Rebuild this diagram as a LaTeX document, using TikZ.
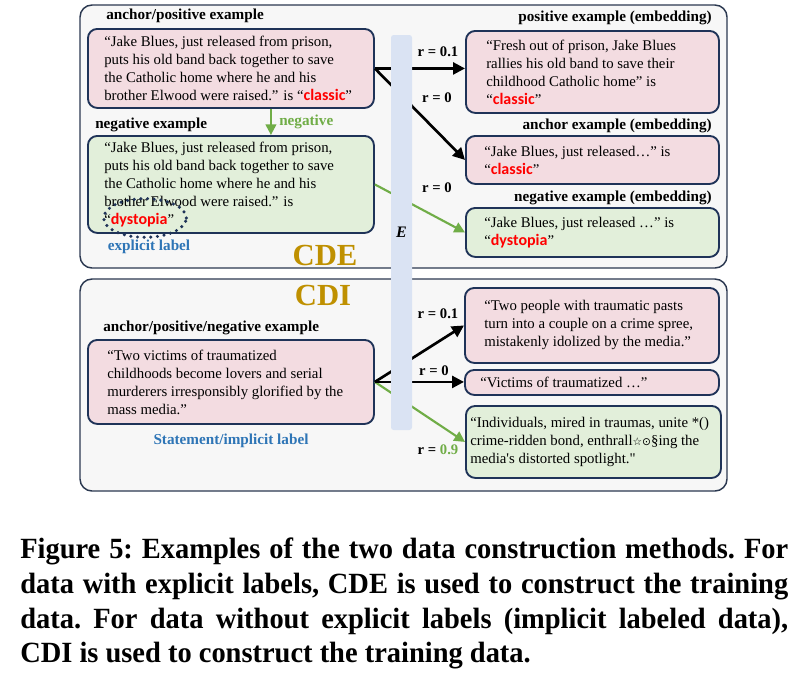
\documentclass[tikz,border=0pt]{standalone}
\usepackage{fontspec}
\setmainfont{Liberation Serif}
\newfontfamily\labelfont{Carlito}
\newfontfamily\symfont{DejaVu Sans}
\newfontfamily\capfont[FakeStretch=0.97]{Liberation Serif}
\usetikzlibrary{arrows.meta,positioning,shapes.geometric}

\definecolor{panelfill}{HTML}{F7F7F7}
\definecolor{panelline}{HTML}{2B3850}
\definecolor{boxline}{HTML}{1F3358}
\definecolor{pinkfill}{HTML}{F3DCE1}
\definecolor{greenfill}{HTML}{E2EFDA}
\definecolor{barfill}{HTML}{DAE3F3}
\definecolor{arrowgreen}{HTML}{70AD47}
\definecolor{labelblue}{HTML}{2E75B6}
\definecolor{labelred}{HTML}{FF0000}
\definecolor{methodgold}{HTML}{BF9000}

\newcommand\boxfont{\fontsize{11.1}{13.5}\selectfont}
\newcommand\titlefont{\fontsize{11.4}{13}\selectfont\bfseries}
\newcommand\redlabel[1]{{\labelfont\bfseries\fontsize{12}{13.5}\selectfont\color{labelred}#1}}

\begin{document}
\begin{tikzpicture}[
    x=0.75pt, y=-0.75pt,
    >=Triangle,
    panel/.style={
        draw=panelline,
        fill=panelfill,
        line width=1.1pt,
        rounded corners=9pt
    },
    textbox/.style={
        draw=boxline,
        line width=1.4pt,
        rounded corners=7pt,
        anchor=north west,
        inner sep=0pt
    },
    pinkbox/.style={textbox, fill=pinkfill},
    greenbox/.style={textbox, fill=greenfill},
    boxtext/.style={
        align=left,
        inner sep=0pt,
        font=\boxfont
    },
    boxtitle/.style={
        font=\titlefont,
        inner sep=0pt
    },
    rlabel/.style={
        font=\fontsize{11}{13}\selectfont\bfseries,
        inner sep=0pt
    },
    pairarrow/.style={
        ->,
        line width=2pt,
        >={Triangle[length=9pt,width=9pt]}
    },
    negarrow/.style={
        ->,
        draw=arrowgreen,
        line width=1.6pt,
        >={Triangle[length=8pt,width=8pt]}
    },
    method/.style={
        font=\fontsize{23}{23}\selectfont\bfseries,
        text=methodgold,
        inner sep=0pt
    },
    encoder/.style={
        fill=barfill,
        rounded corners=2pt,
        minimum width=15.75pt,
        minimum height=296.25pt,
        inner sep=0pt,
        font=\fontsize{12}{12}\selectfont\bfseries\itshape
    },
    caption/.style={
        anchor=north west,
        text width=576pt,
        align=justify,
        inner sep=0pt,
        font=\capfont\bfseries\fontsize{22}{26}\selectfont
    }
]
\useasboundingbox (0,0) rectangle (806,687);

% ============================================================
% Panels
% ============================================================
\draw[panel] (80,5)   rectangle (727,268);
\draw[panel] (80,279) rectangle (727,491);

% ============================================================
% CDE
% ============================================================

% ------------------------------------------------------------
% left: anchor/positive and negative example
% ------------------------------------------------------------
\node[boxtitle, anchor=west] (cde-anchor-title) at (106,16)
    {anchor/positive example};
\node[pinkbox, minimum width=214.5pt, minimum height=59.25pt]
    (cde-anchor) at (87,28) {};
\node[boxtext, right=12.75pt of cde-anchor.west] (cde-anchor-text)
    {“Jake Blues, just released from prison,\\
     puts his old band back together to save\\
     the Catholic home where he and his\\
     brother Elwood were raised.” is “\redlabel{classic}”};

\node[boxtitle, anchor=west] (cde-neg-title) at (95,125)
    {negative example};
\node[greenbox, minimum width=214.5pt, minimum height=72.75pt]
    (cde-neg) at (87,135) {};
\node[boxtext, right=12.75pt of cde-neg.west] (cde-neg-text)
    {“Jake Blues, just released from prison,\\
     puts his old band back together to save\\
     the Catholic home where he and his\\
     brother Elwood were raised.” is\\
     “\redlabel{dystopia}”};

\node[ellipse, draw=boxline, line width=2.6pt, line cap=round,
      dash pattern=on 0pt off 5pt,
      minimum width=62pt, minimum height=29pt] (cde-ring) at (145,218) {};
\node[boxtitle, text=labelblue] (cde-explicit) at (149,247)
    {explicit label};

\node[boxtitle, text=arrowgreen, anchor=west] (cde-neg-label) at (279,122)
    {negative};
\draw[negarrow] ([xshift=30pt]cde-anchor.south) -- ([xshift=30pt]cde-neg.north);

\node[method] (cde-name) at (325,255) {CDE};

% ------------------------------------------------------------
% right: embeddings
% ------------------------------------------------------------
\node[boxtitle, anchor=east] (cde-pos-emb-title) at (712,18)
    {positive example (embedding)};
\node[pinkbox, minimum width=189.75pt, minimum height=61.5pt]
    (cde-pos-emb) at (465,30) {};
\node[boxtext, right=15.75pt of cde-pos-emb.west] (cde-pos-emb-text)
    {“Fresh out of prison, Jake Blues\\
     rallies his old band to save their\\
     childhood Catholic home” is\\
     “\redlabel{classic}”};

\node[boxtitle, anchor=east] (cde-anc-emb-title) at (712,126)
    {anchor example (embedding)};
\node[pinkbox, minimum width=189.75pt, minimum height=36pt]
    (cde-anc-emb) at (465,135) {};
\node[boxtext, right=14.25pt of cde-anc-emb.west] (cde-anc-emb-text)
    {“Jake Blues, just released…” is\\
     “\redlabel{classic}”};

\node[boxtitle, anchor=east] (cde-neg-emb-title) at (712,198)
    {negative example (embedding)};
\node[greenbox, minimum width=189.75pt, minimum height=36.75pt]
    (cde-neg-emb) at (465,207) {};
\node[boxtext, right=14.25pt of cde-neg-emb.west] (cde-neg-emb-text)
    {“Jake Blues, just released …” is\\
     “\redlabel{dystopia}”};

% pairs
\node[rlabel] (cde-r-pos) at (438,52) {r = 0.1};
\node[rlabel] (cde-r-anc) at (437,98) {r = 0};
\node[rlabel] (cde-r-neg) at (437,188) {r = 0};

\draw[pairarrow] (cde-anchor.east) -- (cde-anchor.east -| cde-pos-emb.west);
\draw[pairarrow] (cde-anchor.east) -- (cde-anc-emb.west);
\draw[negarrow]  (cde-neg.east)    -- (cde-neg-emb.west);

% ============================================================
% CDI
% ============================================================
\node[method] (cdi-name) at (323,295) {CDI};

\node[boxtitle, anchor=west] (cdi-anchor-title) at (103,328)
    {anchor/positive/negative example};
\node[pinkbox, minimum width=214.5pt, minimum height=63pt]
    (cdi-anchor) at (87,339) {};
\node[boxtext, right=15pt of cdi-anchor.west] (cdi-anchor-text)
    {“Two victims of traumatized\\
     childhoods become lovers and serial\\
     murderers irresponsibly glorified by the\\
     mass media.”};
\node[boxtitle, text=labelblue] (cdi-implicit) at (231,441)
    {Statement/implicit label};

\node[pinkbox, minimum width=190.5pt, minimum height=56.25pt]
    (cdi-pos) at (464,287) {};
\node[boxtext, right=15pt of cdi-pos.west] (cdi-pos-text)
    {“Two people with traumatic pasts\\
     turn into a couple on a crime spree,\\
     mistakenly idolized by the media.”};

\node[pinkbox, minimum width=190.5pt, minimum height=18.75pt]
    (cdi-anc) at (464,369) {};
\node[boxtext, right=12pt of cdi-anc.west] (cdi-anc-text)
    {“Victims of traumatized …”};

\node[greenbox, minimum width=191.25pt, minimum height=54pt]
    (cdi-neg) at (465,405) {};
\node[boxtext, right=3.75pt of cdi-neg.west] (cdi-neg-text)
    {“Individuals, mired in traumas, unite *()\\
     crime-ridden bond, enthrall{\symfont\fontsize{8}{8}\selectfont ☆⊙}§ing the\\
     media\textquotesingle s distorted spotlight.\textquotedbl};

% pairs
\node[rlabel] (cdi-r-pos) at (438,314) {r = 0.1};
\node[rlabel] (cdi-r-anc) at (434,371) {r = 0};
\node[rlabel] (cdi-r-neg) at (438,450) {r = \textcolor{arrowgreen}{0.9}};

\draw[negarrow]  (cdi-anchor.east) -- (cdi-neg.west);
\draw[pairarrow] (cdi-anchor.east) -- (cdi-pos.west);
\draw[pairarrow] (cdi-anchor.east) -- (cdi-anchor.east -| cdi-anc.west);

% ============================================================
% Encoder bar (on top of the pair arrows)
% ============================================================
\node[encoder] (encoder) at (401.5,232.5) {E};

% ============================================================
% Caption
% ============================================================
\node[caption] (fig-caption) at (20,538)
    {\frenchspacing Figure 5: Examples of the two data construction methods. For\linebreak
     data with explicit labels, CDE is used to construct the training\linebreak
     data. For data without explicit labels (implicit labeled data),\linebreak
     CDI is used to construct the training data.};

\end{tikzpicture}
\end{document}
